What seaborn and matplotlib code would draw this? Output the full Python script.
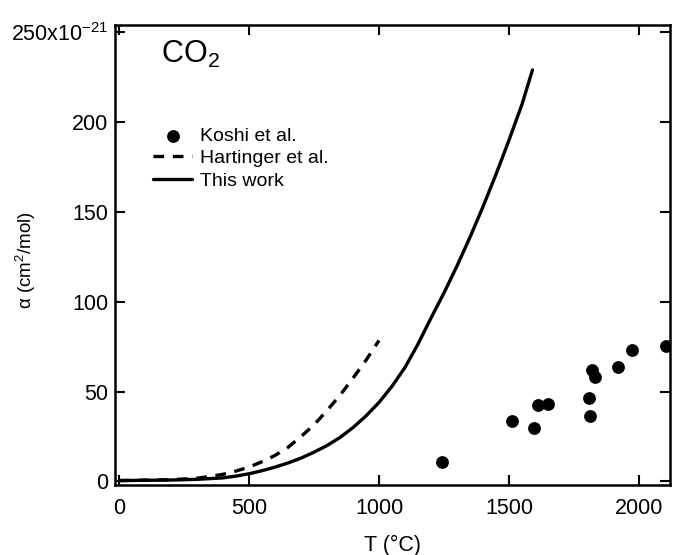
import matplotlib
matplotlib.use("Agg")
import matplotlib.pyplot as plt
import seaborn as sns
import pandas as pd

# Koshi et al. data points
koshi_T = [1242, 1513, 1596, 1613, 1649, 1808, 1810, 1820, 1831, 1920, 1972, 2104]
koshi_a = [11.1, 33.5, 29.8, 42.8, 43.0, 46.5, 36.7, 62.2, 58.0, 63.7, 73.3, 75.6]

# Hartinger et al. (dashed)
hart_T = [0, 200, 300, 350, 400, 450, 500, 550, 600, 650, 700, 750, 800, 850, 900, 950, 1000]
hart_a = [0.5, 1.0, 1.8, 2.8, 4.0, 5.8, 8.0, 11.0, 14.5, 19.0, 25.0, 31.5, 39.5, 48.0, 57.5, 67.5, 78.5]

# This work (solid)
work_T = [0, 200, 300, 400, 450, 500, 550, 600, 650, 700, 750, 800, 850, 900, 950, 1000,
          1050, 1100, 1150, 1200, 1250, 1300, 1350, 1400, 1450, 1500, 1550, 1590]
work_a = [0.5, 0.8, 1.2, 2.0, 3.0, 4.3, 6.0, 8.0, 10.3, 13.0, 16.3, 20.0, 24.5, 30.0, 36.5, 44.0,
          53.0, 63.5, 76.5, 91.0, 105.0, 120.0, 136.0, 153.0, 171.0, 190.0, 210.0, 229.0]

xticks = [0, 500, 1000, 1500, 2000]
yticks = [0, 50, 100, 150, 200, 250]
ytick_labels = ["0", "50", "100", "150", "200", "250x10$^{-21}$"]

sns.set_style("ticks")
plt.rcParams["font.family"] = ["Liberation Sans", "DejaVu Sans"]
plt.rcParams["mathtext.fontset"] = "custom"
plt.rcParams["mathtext.rm"] = "Liberation Sans"
plt.rcParams["mathtext.it"] = "Liberation Sans:italic"
plt.rcParams["text.color"] = "black"
plt.rcParams["axes.labelcolor"] = "black"
plt.rcParams["xtick.color"] = "black"
plt.rcParams["ytick.color"] = "black"

fig = plt.figure(figsize=(6.73, 5.55), dpi=100)
ax = fig.add_axes([0.171, 0.126, 0.825, 0.829])

df_k = pd.DataFrame({"T": koshi_T, "a": koshi_a})
df_h = pd.DataFrame({"T": hart_T, "a": hart_a})
df_w = pd.DataFrame({"T": work_T, "a": work_a})

sns.scatterplot(data=df_k, x="T", y="a", ax=ax, color="black", s=85,
                edgecolor="black", linewidth=0, label="Koshi et al.", zorder=3)
sns.lineplot(data=df_h, x="T", y="a", ax=ax, color="black", linewidth=2.4,
             label="Hartinger et al.")
ax.lines[-1].set_linestyle((0, (3.2, 2.6)))
sns.lineplot(data=df_w, x="T", y="a", ax=ax, color="black", linewidth=2.4,
             label="This work")

ax.set_xlim(-15, 2120)
ax.set_ylim(-2, 254)
ax.set_xticks(xticks)
ax.set_yticks(yticks)
ax.set_yticklabels(ytick_labels)
ax.tick_params(direction="in", length=7, width=1.5, labelsize=15.5,
               top=True, right=True, colors="black")
ax.tick_params(axis="x", pad=9)
ax.tick_params(axis="y", pad=5)
for sp in ax.spines.values():
    sp.set_visible(True)
    sp.set_linewidth(1.8)
    sp.set_color("black")

ax.set_xlabel("T (°C)", fontsize=15.5, labelpad=12, color="black")
ax.set_ylabel("α (cm$^{2}$/mol)", fontsize=13.5, color="black")
ax.yaxis.set_label_coords(-0.160, 0.49)
ax.yaxis.label.set_verticalalignment("center")

ax.text(0.083, 0.935, "CO$_2$", transform=ax.transAxes, fontsize=22,
        ha="left", va="center", color="black")

leg = ax.legend(loc="upper left", bbox_to_anchor=(0.055, 0.795), frameon=False,
                fontsize=14, handlelength=2.0, handletextpad=0.4,
                labelspacing=0.25, borderaxespad=0)
for t in leg.get_texts():
    t.set_color("black")

fig.savefig("out.png", dpi=100)
